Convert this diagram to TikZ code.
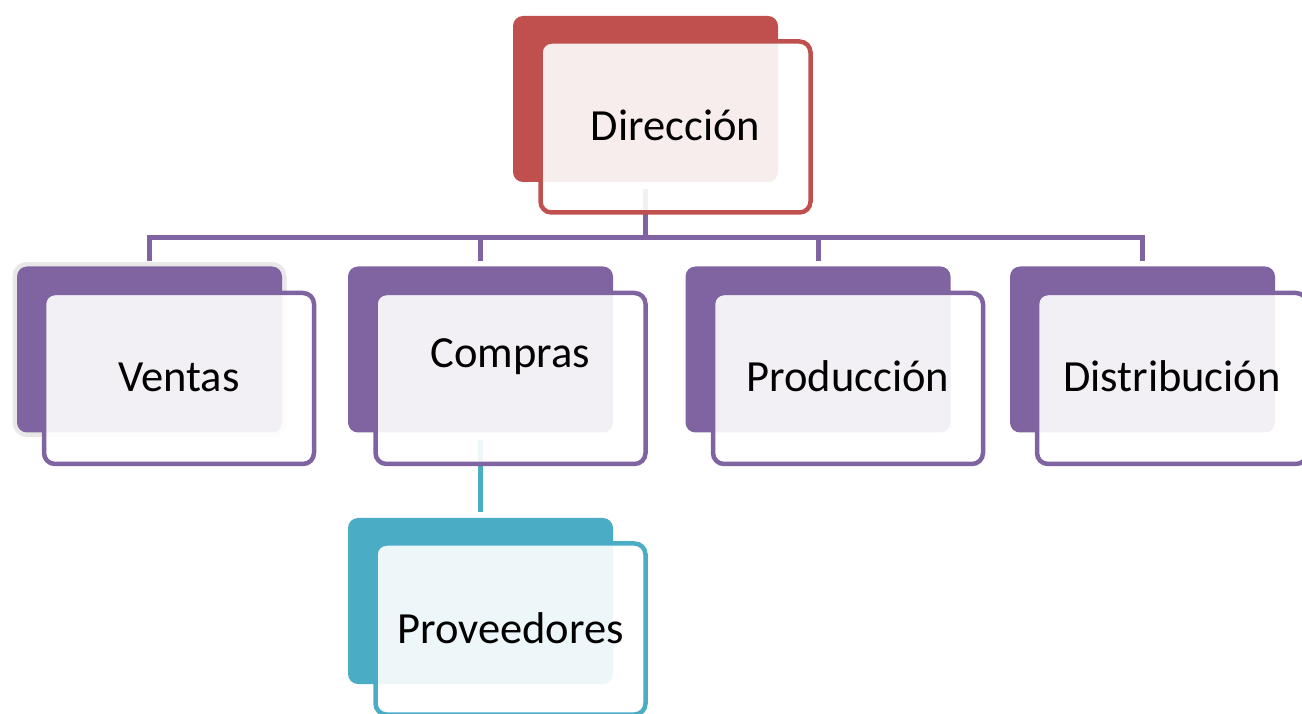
\documentclass[tikz,border=0pt]{standalone}
\usepackage{fontspec}
\setmainfont{Carlito}
\definecolor{purp}{HTML}{8064A2}
\definecolor{redd}{HTML}{C0504D}
\definecolor{tealc}{HTML}{4BACC6}
\begin{document}
\begin{tikzpicture}[x=1pt,y=1pt,
  backbox/.style={draw=none, fill=#1, rounded corners=10pt, minimum width=265pt, minimum height=166pt, inner sep=0pt, outer sep=0pt},
  frontbox/.style={draw=#1, line width=4.5pt, fill=white, fill opacity=0.9, rounded corners=11pt, minimum width=270pt, minimum height=171pt, inner sep=0pt, outer sep=0pt},
  lab/.style={font=\fontsize{44.5}{52}\selectfont, text=black, anchor=base, inner sep=0pt},
  conn/.style={draw=#1, line width=5pt}]
\useasboundingbox (0,0) rectangle (1302,713);
\clip (0,0) rectangle (1302,713);
% back rectangles
\node[backbox=redd] (dirb) at (645.5,614) {};
\node[backbox=purp, preaction={draw=gray!18, line width=9pt, rounded corners=12pt}] (venb) at (149.5,363.5) {};
\node[backbox=purp] (comb) at (480.5,363.5) {};
\node[backbox=purp] (prodb) at (818,363.5) {};
\node[backbox=purp] (distb) at (1142.5,363.5) {};
\node[backbox=tealc] (provb) at (480.5,112) {};
% connectors
\coordinate (hub) at (645.5,475);
\draw[conn=purp] ([yshift=-7pt]dirb.south) -- (hub);
\draw[conn=purp] ([yshift=5pt]venb.north) |- (hub) -| ([yshift=5pt]distb.north);
\draw[conn=purp] ([yshift=5pt]comb.north) -- (comb.north |- hub);
\draw[conn=purp] ([yshift=5pt]prodb.north) -- (prodb.north |- hub);
\draw[conn=tealc] ([yshift=-8pt]comb.south) -- ([yshift=6pt]provb.north);
% front rectangles
\node[frontbox=redd] (dirf) at (675.5,586) {};
\node[frontbox=purp] (venf) at (179,334.5) {};
\node[frontbox=purp] (comf) at (510.5,334.5) {};
\node[frontbox=purp] (prodf) at (848,334.5) {};
\node[frontbox=purp] (distf) at (1172,334.5) {};
\node[frontbox=tealc] (provf) at (510.5,84) {};
% texts
\node[lab] (dirt) at ([yshift=-14pt]dirf.center) {Dirección};
\node[lab] (vent) at ([yshift=-13pt]venf.center) {Ventas};
\node[lab] (comt) at ([yshift=11pt]comf.center) {Compras};
\node[lab] (prodt) at ([yshift=-13pt]prodf.center) {Producción};
\node[lab] (distt) at ([yshift=-13pt]distf.center) {Distribución};
\node[lab] (provt) at ([yshift=-14pt]provf.center) {Proveedores};
\end{tikzpicture}
\end{document}
